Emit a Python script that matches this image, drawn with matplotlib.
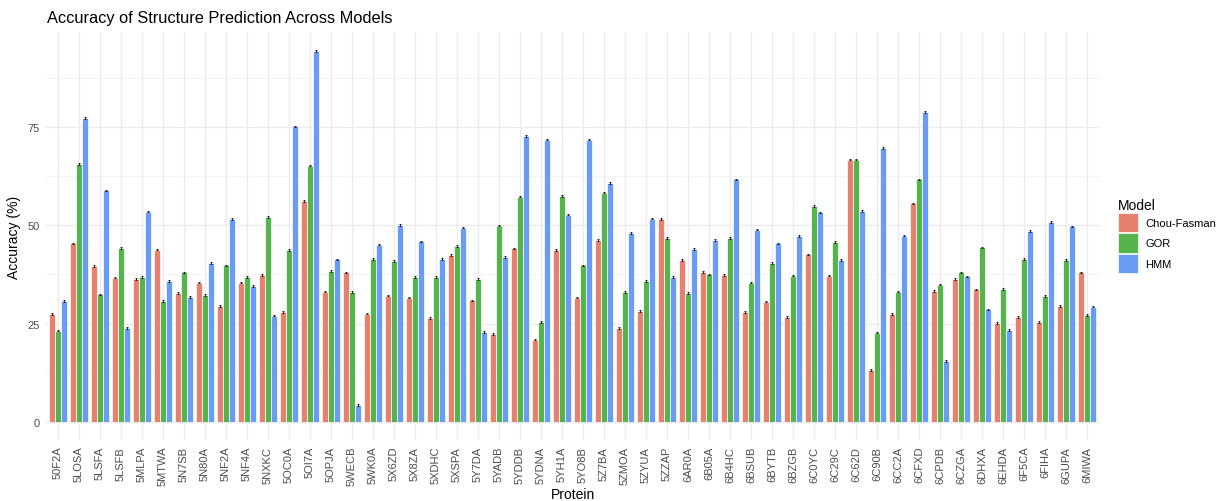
import numpy as np
import matplotlib
matplotlib.use("Agg")
import matplotlib.pyplot as plt
from matplotlib.patches import Patch

plt.rcParams['font.family'] = ['Liberation Sans', 'DejaVu Sans']

proteins = ['50F2A', '5LOSA', '5LSFA', '5LSFB', '5MLPA', '5MTWA', '5N7SB', '5N80A',
            '5NF2A', '5NF4A', '5NXKC', '5OC0A', '5OI7A', '5OPJA', '5WECB', '5WK0A',
            '5X6ZD', '5X8ZA', '5XDHC', '5XSPA', '5Y7DA', '5YADB', '5YDDB', '5YDNA',
            '5YH1A', '5YO8B', '5Z7BA', '5ZMOA', '5ZYUA', '5ZZAP', '6AR0A', '6B05A',
            '6B4HC', '6BSUB', '6BYTB', '6BZGB', '6C0YC', '6C29C', '6C62D', '6C90B',
            '6CC2A', '6CFXD', '6CPDB', '6CZGA', '6DHXA', '6EHDA', '6F5CA', '6FIHA',
            '6GUPA', '6MIWA']

chou_fasman = [27.4, 45.4, 39.7, 36.7, 36.4, 43.8, 32.8, 35.4, 29.5, 35.4,
               37.3, 27.9, 56.2, 33.1, 38.0, 27.5, 32.1, 31.6, 26.4, 42.5,
               30.9, 22.4, 44.1, 20.9, 43.7, 31.6, 46.3, 23.8, 28.2, 51.6,
               41.1, 38.1, 37.3, 27.9, 30.6, 26.6, 42.6, 37.2, 66.7, 13.2,
               27.4, 55.6, 33.3, 36.3, 33.7, 25.1, 26.6, 25.4, 29.5, 38.0]
gor = [23.2, 65.6, 32.4, 44.2, 36.9, 30.7, 38.0, 32.2, 39.8, 36.8,
       52.1, 43.7, 65.2, 38.3, 33.0, 41.4, 40.9, 36.8, 36.8, 44.8,
       36.3, 49.9, 57.3, 25.4, 57.5, 39.8, 58.3, 33.0, 35.8, 46.7,
       32.7, 37.5, 46.7, 35.4, 40.4, 37.2, 54.9, 45.8, 66.7, 22.7,
       33.1, 61.7, 34.9, 38.0, 44.4, 33.8, 41.4, 32.0, 41.1, 27.2]
hmm = [30.7, 77.3, 58.9, 23.8, 53.5, 35.8, 31.8, 40.4, 51.6, 34.6,
       27.0, 75.2, 94.3, 41.3, 4.3, 45.1, 50.1, 45.9, 41.4, 49.4,
       22.8, 42.0, 72.7, 71.8, 52.7, 71.8, 60.8, 48.1, 51.7, 36.9,
       43.9, 46.3, 61.7, 48.9, 45.4, 47.3, 53.3, 41.1, 53.7, 69.7,
       47.4, 78.9, 15.5, 37.0, 28.6, 23.4, 48.5, 50.9, 49.7, 29.3]

models = ['Chou-Fasman', 'GOR', 'HMM']
colors = ['#E7806F', '#55B44B', '#6A9CF5']
err_half = 0.2  # half-width of the error bars

series = [chou_fasman, gor, hmm]
x = np.arange(len(proteins))
bar_w = 0.3

fig = plt.figure(figsize=(12.21, 5.02), dpi=100)
ax = fig.add_axes([0.0372, 0.1209, 0.8634, 0.8135])

for k, (vals, col) in enumerate(zip(series, colors)):
    pos = x + (k - 1) * bar_w
    ax.bar(pos, vals, width=bar_w, color=col, edgecolor='white', linewidth=0.5, zorder=3)
    ax.errorbar(pos, vals, yerr=err_half, fmt='none', ecolor='#222222',
                elinewidth=0.7, capsize=1.0, capthick=0.7, zorder=4)

# ggplot-style expansion of the axes
top = max(max(s) for s in series) + err_half
ax.set_ylim(-0.05 * top, top * 1.05)
ax.set_xlim(-0.6, len(proteins) - 0.4)

ax.set_yticks([0, 25, 50, 75])
ax.set_yticks([12.5, 37.5, 62.5, 87.5], minor=True)
ax.set_xticks(x)
ax.set_xticklabels(proteins, rotation=90)
ax.tick_params(axis='both', length=0, labelsize=8, colors='#4D4D4D', pad=4)
ax.tick_params(axis='y', which='minor', length=0)

ax.grid(True, which='major', color='#EBEBEB', linewidth=1.0, zorder=0)
ax.grid(True, which='minor', axis='y', color='#F1F1F1', linewidth=0.6, zorder=0)
for s in ax.spines.values():
    s.set_visible(False)

ax.set_xlabel('Protein', fontsize=10, labelpad=1)
ax.set_ylabel('Accuracy (%)', fontsize=10, labelpad=5)
fig.text(0.0385, 0.963, 'Accuracy of Structure Prediction Across Models',
         fontsize=11.8, ha='left', va='center')

handles = [Patch(facecolor=c, edgecolor='white', linewidth=0.5) for c in colors]
leg = fig.legend(handles, models, title='Model', loc='upper left',
                 bbox_to_anchor=(0.911, 0.615), frameon=False, fontsize=8,
                 title_fontsize=10, handlelength=1.85, handleheight=2.3,
                 labelspacing=0.1, handletextpad=0.6, borderpad=0)
leg._legend_box.align = 'left'

fig.savefig('out.png', dpi=100)
